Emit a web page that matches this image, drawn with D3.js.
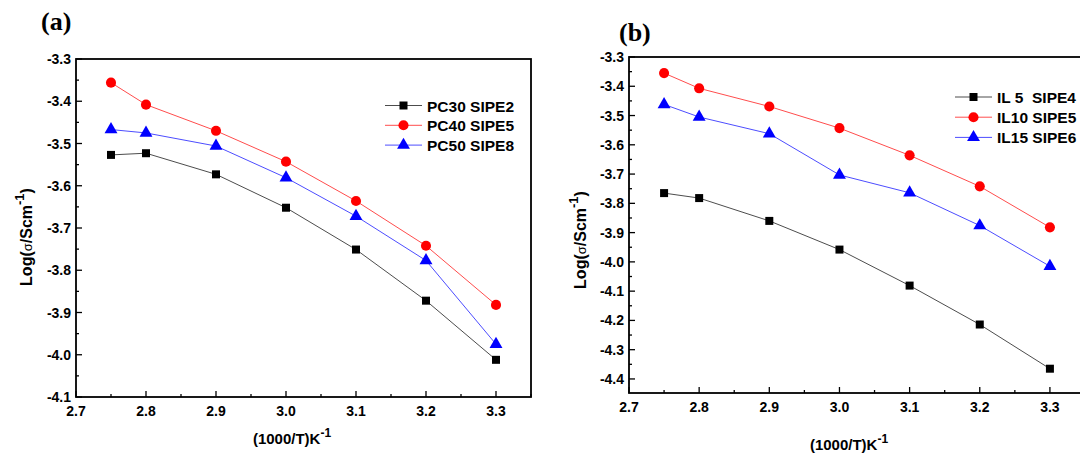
<!DOCTYPE html>
<html>
<head>
  <meta charset="utf-8">
  <script src="https://cdn.jsdelivr.net/npm/d3@7"></script>
  <style type="text/css">
    body { margin: 0; background: #fff; }
    svg text { font-family: "Liberation Sans", Arial, sans-serif; font-weight: 700; }
  </style>
</head>
<body>
<script type="text/javascript">
  // x values shared by both panels
  var xVals = [2.75, 2.8, 2.9, 3.0, 3.1, 3.2, 3.3];

  // panel (a)
  var pc30 = [-3.527, -3.523, -3.573, -3.652, -3.751, -3.872, -4.012];
  var pc40 = [-3.356, -3.408, -3.470, -3.543, -3.636, -3.742, -3.882];
  var pc50 = [-3.467, -3.475, -3.506, -3.581, -3.672, -3.777, -3.975];
  var namesA = ["PC30 SIPE2", "PC40 SIPE5", "PC50 SIPE8"];

  // panel (b)
  var il5  = [-3.765, -3.782, -3.860, -3.958, -4.081, -4.214, -4.365];
  var il10 = [-3.355, -3.407, -3.469, -3.543, -3.636, -3.742, -3.882];
  var il15 = [-3.462, -3.505, -3.562, -3.703, -3.764, -3.876, -4.015];
  var namesB = ["IL 5  SIPE4", "IL10 SIPE5", "IL15 SIPE6"];

  var xTicks = [2.7, 2.8, 2.9, 3.0, 3.1, 3.2, 3.3];
  var yTicksA = [-3.3, -3.4, -3.5, -3.6, -3.7, -3.8, -3.9, -4.0, -4.1];
  var yTicksB = [-3.3, -3.4, -3.5, -3.6, -3.7, -3.8, -3.9, -4.0, -4.1, -4.2, -4.3, -4.4];

  var colors = ["#000000", "#ff0000", "#0000ff"];
  var shapes = [d3.symbolSquare, d3.symbolCircle, d3.symbolTriangle];
  var sizes = [64, 80, 72];

  var svg = d3.select("body").append("svg")
      .attr("width", 1080)
      .attr("height", 454);

  function panel(opt) {
    var x = d3.scaleLinear().domain([2.7, 3.35]).range([opt.left, opt.right]);
    var y = d3.scaleLinear().domain(opt.yDomain).range([opt.bottom, opt.top]);
    var g = svg.append("g");

    // minor ticks (inward)
    var xMinor = d3.range(2.75, 3.35, 0.1);
    var yMinor = opt.yTicks.slice(0, -1).map(function (d) { return d - 0.05; });

    g.selectAll(".xmin").data(xMinor).enter().append("line")
      .attr("x1", function (d) { return x(d); }).attr("x2", function (d) { return x(d); })
      .attr("y1", opt.bottom).attr("y2", opt.bottom - 3)
      .attr("stroke", "#000").attr("stroke-width", 1.3);
    g.selectAll(".xmaj").data(xTicks).enter().append("line")
      .attr("x1", function (d) { return x(d); }).attr("x2", function (d) { return x(d); })
      .attr("y1", opt.bottom).attr("y2", opt.bottom - 6)
      .attr("stroke", "#000").attr("stroke-width", 1.3);
    g.selectAll(".ymin").data(yMinor).enter().append("line")
      .attr("x1", opt.left).attr("x2", opt.left + 3)
      .attr("y1", function (d) { return y(d); }).attr("y2", function (d) { return y(d); })
      .attr("stroke", "#000").attr("stroke-width", 1.3);
    g.selectAll(".ymaj").data(opt.yTicks).enter().append("line")
      .attr("x1", opt.left).attr("x2", opt.left + 6)
      .attr("y1", function (d) { return y(d); }).attr("y2", function (d) { return y(d); })
      .attr("stroke", "#000").attr("stroke-width", 1.3);

    // frame
    g.append("rect")
      .attr("x", opt.left).attr("y", opt.top)
      .attr("width", opt.right - opt.left).attr("height", opt.bottom - opt.top)
      .attr("fill", "none").attr("stroke", "#000").attr("stroke-width", 1.8);

    // tick labels
    g.selectAll(".xl").data(xTicks).enter().append("text")
      .attr("x", function (d) { return x(d); })
      .attr("y", opt.bottom + 19)
      .attr("text-anchor", "middle")
      .style("font-size", "14px").style("font-weight", "bold")
      .text(function (d) { return d3.format(".1f")(d); });
    g.selectAll(".yl").data(opt.yTicks).enter().append("text")
      .attr("x", opt.left - 5)
      .attr("y", function (d) { return y(d) + 5; })
      .attr("text-anchor", "end")
      .style("font-size", "14px").style("font-weight", "bold")
      .text(function (d) { return d3.format(".1f")(d).replace("−", "-"); });

    // axis titles
    var xt = g.append("text")
      .attr("x", opt.xTitleX)
      .attr("y", opt.xTitleY)
      .attr("text-anchor", "middle")
      .style("font-size", "15px").style("font-weight", "bold");
    xt.append("tspan").text("(1000/T)K");
    xt.append("tspan").attr("dy", -7).style("font-size", "12px").text("-1");

    var yt = g.append("text")
      .attr("transform", "translate(" + opt.yTitleX + "," + opt.yTitleY + ") rotate(-90)")
      .attr("text-anchor", "middle")
      .style("font-size", "16px").style("font-weight", "bold");
    yt.append("tspan").text("Log(");
    yt.append("tspan").style("font-weight", "normal").style("font-size", "13px").text("σ");
    yt.append("tspan").text("/Scm");
    yt.append("tspan").attr("dy", -8).style("font-size", "13px").text("-1");
    yt.append("tspan").attr("dy", 8).text(")");

    // series
    var line = d3.line()
      .x(function (d) { return x(d[0]); })
      .y(function (d) { return y(d[1]); });

    opt.series.forEach(function (vals, i) {
      var pts = xVals.map(function (xv, j) { return [xv, vals[j]]; });
      g.append("path").datum(pts)
        .attr("d", line)
        .attr("fill", "none")
        .attr("stroke", colors[i])
        .attr("stroke-opacity", 0.7)
        .attr("stroke-width", 1);
      g.selectAll(".m" + i).data(pts).enter().append("path")
        .attr("d", d3.symbol().type(shapes[i]).size(sizes[i]))
        .attr("transform", function (d) { return "translate(" + x(d[0]) + "," + y(d[1]) + ")"; })
        .attr("fill", colors[i]);
    });

    // legend
    opt.names.forEach(function (name, i) {
      var ly = opt.legY + i * opt.legStep;
      g.append("line")
        .attr("x1", opt.legX).attr("x2", opt.legX + 37)
        .attr("y1", ly).attr("y2", ly)
        .attr("stroke", colors[i]).attr("stroke-opacity", 0.7).attr("stroke-width", 1);
      g.append("path")
        .attr("d", d3.symbol().type(shapes[i]).size(sizes[i]))
        .attr("transform", "translate(" + (opt.legX + 18.5) + "," + ly + ")")
        .attr("fill", colors[i]);
      g.append("text")
        .attr("x", opt.legX + 42)
        .attr("y", ly + 6)
        .style("font-size", "15.5px").style("font-weight", "bold")
        .attr("xml:space", "preserve")
        .text(name);
    });

    // panel letter
    g.append("text")
      .attr("x", opt.letterX).attr("y", opt.letterY)
      .style("font-family", "'Liberation Serif', 'Times New Roman', serif")
      .style("font-size", "26px").style("font-weight", "bold")
      .text(opt.letter);
  }

  panel({
    left: 76, right: 531, top: 59, bottom: 397,
    yDomain: [-4.1, -3.3], yTicks: yTicksA,
    series: [pc30, pc40, pc50], names: namesA,
    legX: 385, legY: 105.5, legStep: 19.8,
    xTitleX: 292, xTitleY: 444, yTitleX: 32, yTitleY: 237,
    letter: "(a)", letterX: 41, letterY: 30
  });

  panel({
    left: 629, right: 1085, top: 57, bottom: 393,
    yDomain: [-4.448, -3.3], yTicks: yTicksB,
    series: [il5, il10, il15], names: namesB,
    legX: 955, legY: 97, legStep: 20.2,
    xTitleX: 849, xTitleY: 450, yTitleX: 586, yTitleY: 240,
    letter: "(b)", letterX: 619, letterY: 41
  });
</script>
</body>
</html>
